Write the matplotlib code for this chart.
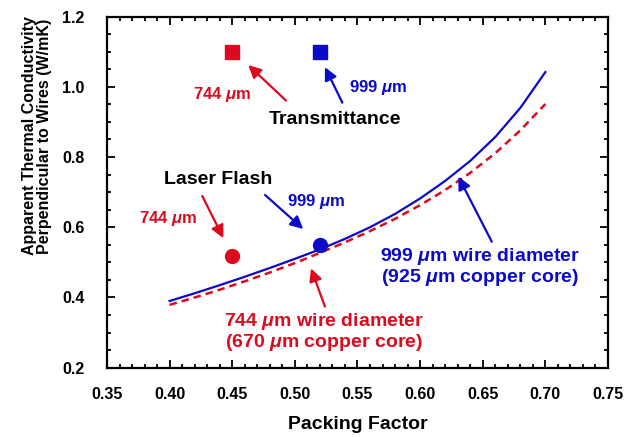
import numpy as np
import matplotlib
matplotlib.use('Agg')
import matplotlib.pyplot as plt
from matplotlib.ticker import MultipleLocator, FormatStrFormatter

plt.rcParams['font.family'] = ['Liberation Sans', 'DejaVu Sans']
plt.rcParams['font.weight'] = 'bold'
plt.rcParams['mathtext.fontset'] = 'custom'
plt.rcParams['mathtext.rm'] = 'Liberation Sans:bold'
plt.rcParams['mathtext.it'] = 'Liberation Sans:bold:italic'
plt.rcParams['mathtext.bf'] = 'Liberation Sans:bold'

RED = '#dc0a1e'
BLUE = '#0a0ac8'

# model curves
packing = [0.40, 0.42, 0.44, 0.46, 0.48, 0.50, 0.52, 0.54, 0.56, 0.58,
           0.60, 0.62, 0.64, 0.66, 0.68, 0.70]
k_999 = [0.390, 0.412, 0.435, 0.459, 0.484, 0.510, 0.537, 0.567, 0.600, 0.638,
         0.682, 0.732, 0.789, 0.857, 0.940, 1.042]
k_744 = [0.379, 0.400, 0.422, 0.446, 0.471, 0.498, 0.527, 0.557, 0.589, 0.624,
         0.663, 0.706, 0.755, 0.811, 0.876, 0.951]

# measurements
trans_x = [0.45, 0.52]
trans_k = [1.10, 1.10]
flash_x = [0.45, 0.52]
flash_k = [0.518, 0.549]

fig = plt.figure(figsize=(6.33, 4.37), dpi=100)
ax = fig.add_axes([0.169, 0.1586, 0.7915, 0.8034])

ax.plot(packing, k_999, ls='-', color=BLUE, lw=1.6)
ax.plot(packing, k_744, ls=(0, (3, 2)), color=RED, lw=1.8)

ax.plot(trans_x[0], trans_k[0], 's', color=RED, ms=9.5)
ax.plot(trans_x[1], trans_k[1], 's', color=BLUE, ms=9.5)
ax.plot(flash_x[0], flash_k[0], 'o', color=RED, ms=10)
ax.plot(flash_x[1], flash_k[1], 'o', color=BLUE, ms=10)

ax.set_xlim(0.35, 0.75)
ax.set_ylim(0.2, 1.2)
ax.xaxis.set_major_locator(MultipleLocator(0.05))
ax.xaxis.set_minor_locator(MultipleLocator(0.01))
ax.yaxis.set_major_locator(MultipleLocator(0.2))
ax.yaxis.set_minor_locator(MultipleLocator(0.05))
ax.xaxis.set_major_formatter(FormatStrFormatter('%.2f'))
ax.yaxis.set_major_formatter(FormatStrFormatter('%.1f'))
ax.tick_params(which='both', direction='in', top=True, right=True, width=1.3,
               labelsize=11.5)
ax.tick_params(which='major', length=5.5)
ax.tick_params(which='minor', length=3)
ax.tick_params(axis='x', which='major', pad=14)
ax.tick_params(axis='y', which='major', pad=16)
for s in ax.spines.values():
    s.set_linewidth(1.6)

ax.set_xlabel('Packing Factor', fontsize=14, fontweight='bold', labelpad=10)
ax.text(-0.14, 0.66, 'Apparent Thermal Conductivity\nPerpendicular to Wires (W/mK)',
        transform=ax.transAxes, rotation=90, ha='center', va='center',
        fontsize=11.5, fontweight='bold', linespacing=1.0)

arrow = dict(arrowstyle='-|>', lw=1.6, mutation_scale=19, shrinkA=0, shrinkB=0)

def note(xy, xytext, color):
    ax.annotate('', xy=xy, xytext=xytext,
                arrowprops=dict(arrow, color=color))

note((0.4628, 1.062), (0.4929, 0.961), RED)
note((0.524, 1.056), (0.5379, 0.955), BLUE)
note((0.4429, 0.569), (0.4261, 0.689), RED)
note((0.5067, 0.595), (0.4762, 0.692), BLUE)
note((0.6305, 0.744), (0.6572, 0.559), BLUE)
note((0.5129, 0.483), (0.524, 0.374), RED)

ax.text(0.4415, 0.977, r'744 $\mu$m', color=RED, fontsize=12, ha='center', va='center')
ax.text(0.5666, 0.999, r'999 $\mu$m', color=BLUE, fontsize=12, ha='center', va='center')
ax.text(0.532, 0.906, 'Transmittance', color='black', fontsize=14, ha='center', va='center')
ax.text(0.4389, 0.737, 'Laser Flash', color='black', fontsize=14, ha='center', va='center')
ax.text(0.399, 0.626, r'744 $\mu$m', color=RED, fontsize=12, ha='center', va='center')
ax.text(0.5166, 0.673, r'999 $\mu$m', color=BLUE, fontsize=12, ha='center', va='center')
ax.text(0.6478, 0.487, '999 $\\mu$m wire diameter\n(925 $\\mu$m copper core)',
        color=BLUE, fontsize=14, ha='center', va='center', linespacing=1.0)
ax.text(0.5229, 0.3026, '744 $\\mu$m wire diameter\n(670 $\\mu$m copper core)',
        color=RED, fontsize=14, ha='center', va='center', linespacing=1.0)

fig.savefig('out.png', dpi=100)
